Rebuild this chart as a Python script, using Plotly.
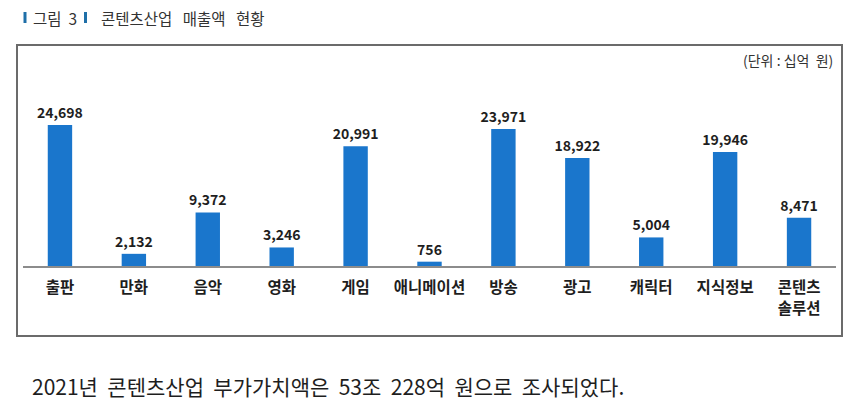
import plotly.graph_objects as go

categories = ["출판", "만화", "음악", "영화", "게임", "애니메이션", "방송", "광고", "캐릭터", "지식정보", "콘텐츠<br>솔루션"]
values = [24698, 2132, 9372, 3246, 20991, 756, 23971, 18922, 5004, 19946, 8471]
value_labels = ["24,698", "2,132", "9,372", "3,246", "20,991", "756", "23,971", "18,922", "5,004", "19,946", "8,471"]

W, H = 850, 413
FONT = "Noto Sans CJK KR, Malgun Gothic, sans-serif"
SP = "&nbsp;"

def px(x):
    return x / W

def py(y):
    return 1 - y / H

fig = go.Figure()
fig.add_trace(go.Bar(
    x=categories, y=values,
    text=value_labels, textposition="outside", constraintext="none",
    textfont=dict(family=FONT, size=14, color="#1e1e1e", weight="bold"),
    marker=dict(color="#1a76cc", line=dict(width=0)),
    cliponaxis=False,
    width=0.33,
))

fig.update_layout(
    width=W, height=H,
    margin=dict(l=0, r=0, t=0, b=0),
    paper_bgcolor="white", plot_bgcolor="white",
    showlegend=False,
    font=dict(family=FONT),
    xaxis=dict(domain=[px(23), px(836)], showgrid=False, zeroline=False,
               showline=True, linecolor="#8c8c8c", linewidth=1.5,
               ticks="", ticklabelstandoff=7,
               tickfont=dict(family=FONT, size=15.5, color="#1e1e1e", weight="bold")),
    yaxis=dict(domain=[py(266), py(45)], range=[0, 38700], visible=False),
)

# border box
fig.add_shape(type="rect", xref="paper", yref="paper",
              x0=px(17), x1=px(842), y0=py(336), y1=py(45),
              line=dict(color="#6b6b6b", width=2), fillcolor="rgba(0,0,0,0)")

# title markers
for x0 in (23.5, 84):
    fig.add_shape(type="rect", xref="paper", yref="paper",
                  x0=px(x0), x1=px(x0 + 3), y0=py(23), y1=py(12),
                  line=dict(width=0), fillcolor="#1f6fa8")

fig.add_annotation(xref="paper", yref="paper", x=px(31), y=py(17.5),
                   text="그림" + SP * 2 + "3", showarrow=False, xanchor="left", yanchor="middle",
                   font=dict(family=FONT, size=15.5, color="#333333"))
fig.add_annotation(xref="paper", yref="paper", x=px(99), y=py(17.5),
                   text=("콘텐츠산업" + SP * 3 + "매출액" + SP * 3 + "현황"),
                   showarrow=False, xanchor="left", yanchor="middle",
                   font=dict(family=FONT, size=15.5, color="#333333"))

fig.add_annotation(xref="paper", yref="paper", x=px(835), y=py(60),
                   text="(단위" + SP + ":" + SP + "십억" + SP * 2 + "원)", showarrow=False,
                   xanchor="right", yanchor="middle",
                   font=dict(family=FONT, size=14, color="#333333"))

bottom_text = "2021년 콘텐츠산업 부가가치액은 53조 228억 원으로 조사되었다."
fig.add_annotation(xref="paper", yref="paper", x=px(30), y=py(386),
                   text=bottom_text.replace(" ", SP * 2),
                   showarrow=False, xanchor="left", yanchor="middle",
                   font=dict(family=FONT, size=21, color="#1e1e1e"))

fig.write_html("out.html")
